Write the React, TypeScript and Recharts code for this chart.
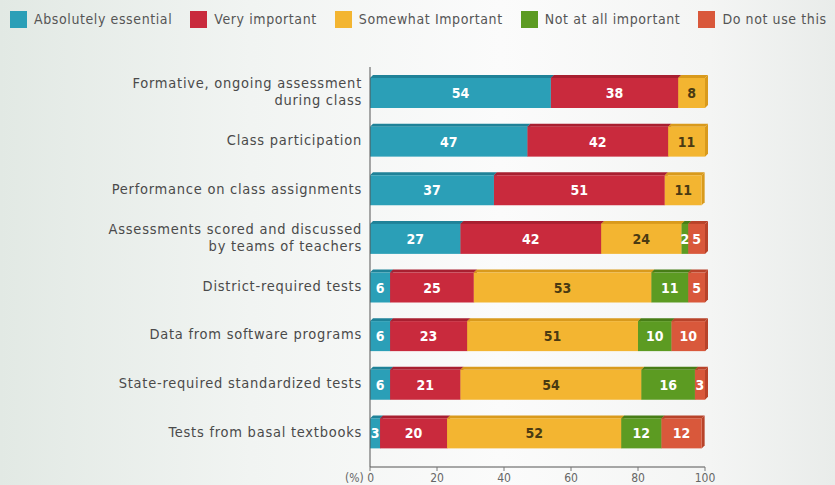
import React from "react";
import { BarChart, Bar, XAxis, YAxis, Legend, LabelList } from "recharts";

const categories = [
  "Formative, ongoing assessment|during class",
  "Class participation",
  "Performance on class assignments",
  "Assessments scored and discussed|by teams of teachers",
  "District-required tests",
  "Data from software programs",
  "State-required standardized tests",
  "Tests from basal textbooks",
];
const absolutelyEssential = [54, 47, 37, 27, 6, 6, 6, 3];
const veryImportant = [38, 42, 51, 42, 25, 23, 21, 20];
const somewhatImportant = [8, 11, 11, 24, 53, 51, 54, 52];
const notAtAllImportant = [0, 0, 0, 2, 11, 10, 16, 12];
const doNotUseThis = [0, 0, 0, 5, 5, 10, 3, 12];
const xTicks = [0, 20, 40, 60, 80, 100];

const seriesDefs = [
  { key: "ae", name: "Absolutely essential", values: absolutelyEssential, color: "#2b9fb7", dark: "#1f8298", label: "#ffffff" },
  { key: "vi", name: "Very important", values: veryImportant, color: "#c92a3d", dark: "#a81f30", label: "#ffffff" },
  { key: "si", name: "Somewhat Important", values: somewhatImportant, color: "#f3b531", dark: "#d99a1c", label: "#4a3a12" },
  { key: "na", name: "Not at all important", values: notAtAllImportant, color: "#5c9b22", dark: "#477d16", label: "#ffffff" },
  { key: "du", name: "Do not use this", values: doNotUseThis, color: "#d9583b", dark: "#b8432a", label: "#ffffff" },
];

const data = categories.map((name, i) => {
  const row: any = { name };
  seriesDefs.forEach((s) => (row[s.key] = s.values[i]));
  return row;
});

const FONT = "'DejaVu Sans Condensed', 'DejaVu Sans', sans-serif";
const D = 3;

const makeShape = (color: string, dark: string) => (props: any) => {
  const { x, y, width, height } = props;
  if (!width || width <= 0) return null;
  const w = width;
  return (
    <g>
      <polygon
        points={`${x},${y + D} ${x + D},${y} ${x + w + D},${y} ${x + w},${y + D}`}
        fill={dark}
      />
      <polygon
        points={`${x + w},${y + D} ${x + w + D},${y} ${x + w + D},${y + height - D} ${x + w},${y + height}`}
        fill={dark}
      />
      <rect x={x} y={y + D} width={w} height={height - D} fill={color} />
    </g>
  );
};

const makeLabel = (fill: string) => (props: any) => {
  const { x, y, width, height, value } = props;
  if (!value) return null;
  return (
    <text
      x={x + width / 2}
      y={y + D / 2 + height / 2}
      textAnchor="middle"
      dominantBaseline="central"
      fill={fill}
      fontFamily={FONT}
      fontWeight="bold"
      fontSize={14}
    >
      {value}
    </text>
  );
};

const YTick = (props: any) => {
  const { x, y, payload } = props;
  const lines = String(payload.value).split("|");
  const lh = 17;
  const start = y - ((lines.length - 1) * lh) / 2;
  return (
    <g>
      {lines.map((l, i) => (
        <text
          key={i}
          x={x}
          y={start + i * lh}
          textAnchor="end"
          dominantBaseline="central"
          fill="#4a4a4a"
          fontFamily={FONT}
          fontSize={14.5}
          letterSpacing={0.75}
        >
          {l}
        </text>
      ))}
    </g>
  );
};

const XTick = (props: any) => {
  const { x, y, payload } = props;
  return (
    <text
      x={payload.value === 0 ? x + 4 : x}
      y={y + 9}
      textAnchor={payload.value === 0 ? "end" : "middle"}
      fill="#666"
      fontFamily={FONT}
      fontSize={12}
    >
      {payload.value === 0 ? "(%) 0" : payload.value}
    </text>
  );
};

const LegendContent = () => (
  <div
    style={{
      display: "flex",
      alignItems: "center",
      height: 38,
      paddingLeft: 10,
      fontFamily: FONT,
      fontSize: 14,
      letterSpacing: 0.6,
      color: "#555",
      whiteSpace: "nowrap",
    }}
  >
    {seriesDefs.map((s) => (
      <div key={s.key} style={{ display: "flex", alignItems: "center", marginRight: 18 }}>
        <span style={{ display: "inline-block", width: 17, height: 17, background: s.color, marginRight: 7 }} />
        <span>{s.name}</span>
      </div>
    ))}
  </div>
);

export default function App() {
  return (
    <div
      style={{
        position: "absolute",
        left: 0,
        top: 0,
        width: 835,
        height: 485,
        background: "linear-gradient(90deg, #e2e9e4 0%, #f1f4f2 30%, #fbfbfb 60%, #f4f5f4 85%, #e9ecea 100%)",
      }}
    >
      <BarChart
        width={835}
        height={485}
        data={data}
        layout="vertical"
        barSize={33}
        margin={{ top: 29, right: 130, bottom: 0, left: 0 }}
      >
        <Legend
          verticalAlign="top"
          content={<LegendContent />}
          wrapperStyle={{ top: 0, left: 0, width: 835, height: 38 }}
        />
        <XAxis
          type="number"
          domain={[0, 100]}
          ticks={xTicks}
          axisLine={{ stroke: "#555" }}
          tickLine={{ stroke: "#777" }}
          tickSize={4}
          height={18}
          tick={<XTick />}
          interval={0}
        />
        <YAxis
          type="category"
          dataKey="name"
          width={370}
          axisLine={{ stroke: "#555" }}
          tickLine={false}
          tickSize={0}
          tickMargin={8}
          padding={{ top: 0, bottom: 11 }}
          tick={<YTick />}
          interval={0}
        />
        {seriesDefs.map((s) => (
          <Bar
            key={s.key}
            dataKey={s.key}
            name={s.name}
            stackId="a"
            fill={s.color}
            isAnimationActive={false}
            shape={makeShape(s.color, s.dark)}
          >
            <LabelList dataKey={s.key} content={makeLabel(s.label)} />
          </Bar>
        ))}
      </BarChart>
    </div>
  );
}
